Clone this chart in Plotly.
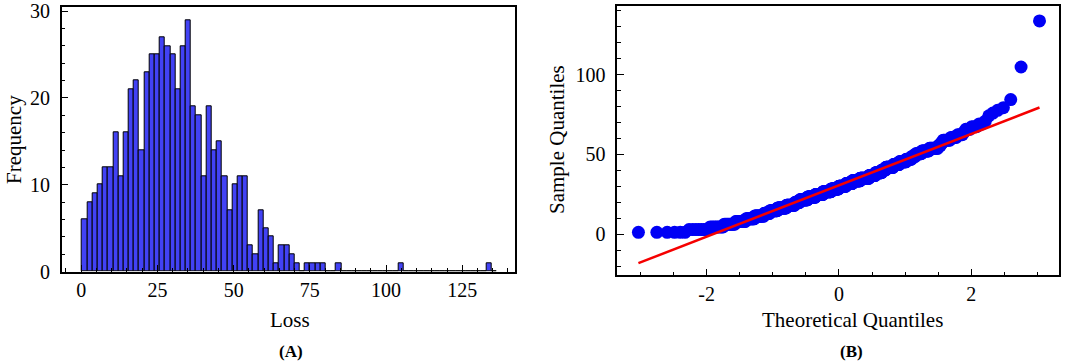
import numpy as np
import plotly.graph_objects as go
from statistics import NormalDist

# ---- Data (panel A) ----
bin_start = 0.3
bin_width = 1.7
counts = [6, 8, 9, 10, 12, 12, 16, 11, 16, 21,
          22, 14, 23, 25, 25, 27, 26, 25, 21, 26,
          29, 19, 18, 11, 19, 14, 15, 11, 7, 10,
          11, 11, 3, 2, 7, 5, 4, 1, 3, 3,
          2, 1, 0, 1, 1, 1, 1, 0, 0, 1,
          0, 0, 0, 0, 0, 0, 0, 0, 0, 0,
          0, 1, 0, 0, 0, 0, 0, 0, 0, 0,
          0, 0, 0, 0, 0, 0, 0, 0, 1, 0]

x_ticks_A = [0, 25, 50, 75, 100, 125]
y_ticks_A = [0, 10, 20, 30]
x_ticks_B = [-2, 0, 2]
x_ticktext_B = ["-2", "0", "2"]
y_ticks_B = [0, 50, 100]

centers = [bin_start + (i + 0.5) * bin_width for i in range(len(counts))]

# ---- Q-Q plot values derived from the histogram sample ----
sample = np.sort(np.repeat(centers, counts))
n = len(sample)
last = 0.5 ** (1.0 / n)
pos = [(i - 0.3175) / (n + 0.365) for i in range(1, n + 1)]
pos[0] = 1 - last
pos[-1] = last
nd = NormalDist()
theo = np.array([nd.inv_cdf(p) for p in pos])
slope, intercept = np.polyfit(theo, sample, 1)
line_x = np.array([theo.min(), theo.max()])
line_y = intercept + slope * line_x

FONT = "Liberation Serif"
W, H = 1065, 364

fig = go.Figure()
fig.add_trace(go.Bar(
    x=centers, y=counts, width=bin_width,
    marker=dict(color="rgb(66,66,245)", line=dict(color="black", width=1)),
    xaxis="x", yaxis="y"))
fig.add_trace(go.Scatter(
    x=theo, y=sample, mode="markers",
    marker=dict(color="rgb(0,0,245)", size=13, line=dict(width=0)),
    xaxis="x2", yaxis="y2"))
fig.add_trace(go.Scatter(
    x=line_x, y=line_y, mode="lines",
    line=dict(color="rgb(245,0,0)", width=2.5),
    xaxis="x2", yaxis="y2"))

axis_common = dict(
    showline=True, linecolor="black", linewidth=1.5, mirror=True,
    ticks="inside", ticklen=7, tickwidth=1.2, tickcolor="black",
    showgrid=False, zeroline=False, automargin=False,
    tickfont=dict(family=FONT, size=20, color="black"),
)


def px_x(p):
    return p / W


def px_y(p):
    return 1 - p / H


def minor(dt):
    return dict(dtick=dt, tick0=0, ticks="inside", ticklen=3.5,
                tickcolor="black", tickwidth=1)


fig.update_layout(
    width=W, height=H,
    margin=dict(l=0, r=0, t=0, b=0, autoexpand=False),
    paper_bgcolor="white", plot_bgcolor="white",
    showlegend=False, bargap=0,
    xaxis=dict(domain=[px_x(61.7), px_x(515.3)], range=[-6.4, 142.4],
               tickvals=x_ticks_A, anchor="y", minor=minor(5), **axis_common),
    yaxis=dict(domain=[px_y(271.5), px_y(7.3)], range=[0, 30.45],
               tickvals=y_ticks_A, anchor="x", minor=minor(2),
               ticklabelstandoff=6, **axis_common),
    xaxis2=dict(domain=[px_x(617.3), px_x(1059.3)], range=[-3.35, 3.33],
                tickvals=x_ticks_B, ticktext=x_ticktext_B, anchor="y2",
                minor=minor(0.5), **axis_common),
    yaxis2=dict(domain=[px_y(275.3), px_y(5.7)], range=[-25.8, 143.3],
                tickvals=y_ticks_B, anchor="x2", minor=minor(10),
                ticklabelstandoff=6, **axis_common),
)

ann_font = dict(family=FONT, size=21, color="black")
labels = [
    ("Frequency", 14, 140, -90, ann_font),
    ("Loss", 290, 320, 0, ann_font),
    ("Sample Quantiles", 557, 140, -90, ann_font),
    ("Theoretical Quantiles", 852, 320, 0, ann_font),
    ("<b>(A)</b>", 291, 351, 0, dict(family=FONT, size=17, color="black")),
    ("<b>(B)</b>", 851, 351, 0, dict(family=FONT, size=17, color="black")),
]
for text, x, y, ang, f in labels:
    fig.add_annotation(text=text, x=px_x(x), y=px_y(y), xref="paper", yref="paper",
                       showarrow=False, textangle=ang, font=f,
                       xanchor="center", yanchor="middle")

fig.write_html(
    "out.html",
    config={"displayModeBar": False},
    post_script="document.body.style.margin='0';document.body.style.overflow='hidden';",
)
